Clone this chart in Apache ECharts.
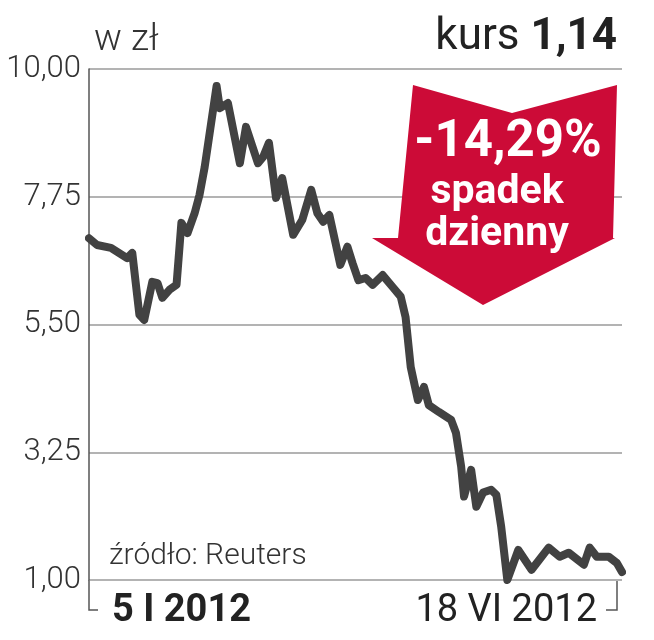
<!DOCTYPE html>
<html>
<head>
<meta charset="utf-8">
<script src="https://cdn.jsdelivr.net/npm/echarts@6/dist/echarts.min.js"></script>
<style>
  html, body { margin: 0; padding: 0; background: #fff; }
  #chart { width: 654px; height: 640px; }
</style>
</head>
<body>
<div id="chart"></div>
<script>
// dni od 5 I 2012 (0) do 18 VI 2012 (165)
const days = [0, 2.5, 6.8, 11.8, 13.4, 15.6, 17.1, 19.6, 21.2, 22.7, 24.9, 27.1, 28.6, 30.5, 32.7, 34.2,
  35.8, 39.5, 40.5, 43, 46.7, 48.6, 52.3, 53.9, 55.7, 57.9, 59.8, 63.2, 66, 68.8, 70.7, 72.5, 74.4,
  76.3, 77.8, 80, 81.6, 83.4, 85.6, 87.8, 90.9, 94, 96.5, 98, 99.6, 101.8, 103.7, 105.2, 108.3,
  112.1, 113.6, 115.2, 116.1, 118.3, 119.9, 122, 124.5, 126.1, 127.6, 129.5, 132.9, 137, 142.3,
  145.7, 148.5, 153.2, 155, 157.2, 160.9, 163.4, 165]
// kurs w zł
const prices = [7.02, 6.9, 6.85, 6.67, 6.76, 5.67, 5.58, 6.25, 6.23, 5.97, 6.11, 6.2, 7.29, 7.11, 7.46, 7.78,
  8.27, 9.7, 9.31, 9.4, 8.34, 8.98, 8.34, 8.45, 8.7, 7.73, 8.08, 7.08, 7.34, 7.87, 7.46, 7.31, 7.43,
  6.94, 6.55, 6.87, 6.58, 6.28, 6.32, 6.2, 6.37, 6.16, 5.99, 5.63, 4.75, 4.17, 4.4, 4.08, 3.96,
  3.82, 3.59, 3.0, 2.47, 2.94, 2.29, 2.54, 2.59, 2.5, 1.94, 1.0, 1.53, 1.18, 1.57,
  1.41, 1.48, 1.27, 1.57, 1.41, 1.41, 1.3, 1.14]
const yTicks = [1, 3.25, 5.5, 7.75, 10]
const startLabel = '5 I 2012'
const endLabel = '18 VI 2012'

const chart = echarts.init(document.getElementById('chart'))

const fmt = v => v.toFixed(2).replace('.', ',')

chart.setOption({
  animation: false,
  backgroundColor: '#fff',
  grid: { left: 89, right: 32, top: 69, bottom: 60 },
  xAxis: {
    type: 'value',
    min: 0,
    max: 165,
    axisLine: { show: false },
    axisTick: { show: false },
    axisLabel: { show: false },
    splitLine: { show: false }
  },
  yAxis: {
    type: 'value',
    min: 1,
    max: 10,
    axisLine: { show: true, lineStyle: { color: '#555', width: 1.5 } },
    axisTick: { show: false, customValues: yTicks },
    axisLabel: {
      customValues: yTicks,
      formatter: fmt,
      margin: 8,
      color: '#333',
      fontFamily: 'Roboto',
      fontWeight: 300,
      fontSize: 31
    },
    splitLine: { show: true, lineStyle: { color: '#9a9a9a', width: 1.5 } }
  },
  series: [{
    type: 'line',
    data: days.map((d, i) => [d, prices[i]]),
    showSymbol: false,
    lineStyle: { color: '#424242', width: 8, cap: 'round', join: 'round' },
    z: 3
  }],
  graphic: [
    { type: 'text', left: 94, top: 22, style: { text: 'w zł', fontFamily: 'Roboto', fontWeight: 300, fontSize: 37, fill: '#333' } },
    { type: 'text', right: 37, top: 16, style: { text: '{a|kurs }{b|1,14}', rich: {
      a: { fontFamily: 'Roboto', fontSize: 44, fill: '#222', fontWeight: 400 },
      b: { fontFamily: 'Roboto', fontSize: 44, fill: '#222', fontWeight: 'bold' }
    } } },
    {
      type: 'polygon', z: 10,
      shape: { points: [[413, 85], [512, 113], [617, 85], [613, 238], [615, 238], [483, 305], [372, 238], [398, 238]] },
      style: { fill: '#cc0b37' }
    },
    { type: 'text', z: 11, x: 508, y: 118, style: { text: '-14,29%', align: 'center', fontFamily: 'Roboto', fontWeight: 'bold', fontSize: 51, fill: '#fff' } },
    { type: 'text', z: 11, x: 497, y: 172, style: { text: 'spadek', align: 'center', fontFamily: 'Roboto', fontWeight: 'bold', fontSize: 41, fill: '#fff' } },
    { type: 'text', z: 11, x: 497, y: 214, style: { text: 'dzienny', align: 'center', fontFamily: 'Roboto', fontWeight: 'bold', fontSize: 41, fill: '#fff' } },
    { type: 'text', left: 109, top: 541, style: { text: 'źródło: Reuters', fontFamily: 'Roboto', fontWeight: 300, fontSize: 30, fill: '#333' } },
    { type: 'polyline', shape: { points: [[89, 580], [89, 610], [98, 610]] }, style: { stroke: '#555', lineWidth: 1.5, fill: null } },
    { type: 'polyline', shape: { points: [[606, 610], [617, 610], [617, 581]] }, style: { stroke: '#555', lineWidth: 1.5, fill: null } },
    { type: 'text', left: 112, top: 592, style: { text: startLabel, fontFamily: 'Roboto', fontWeight: 'bold', fontSize: 38, fill: '#222' } },
    { type: 'text', right: 57, top: 592, style: { text: endLabel, fontFamily: 'Roboto', fontWeight: 400, fontSize: 38, fill: '#222' } }
  ]
})
</script>
</body>
</html>
